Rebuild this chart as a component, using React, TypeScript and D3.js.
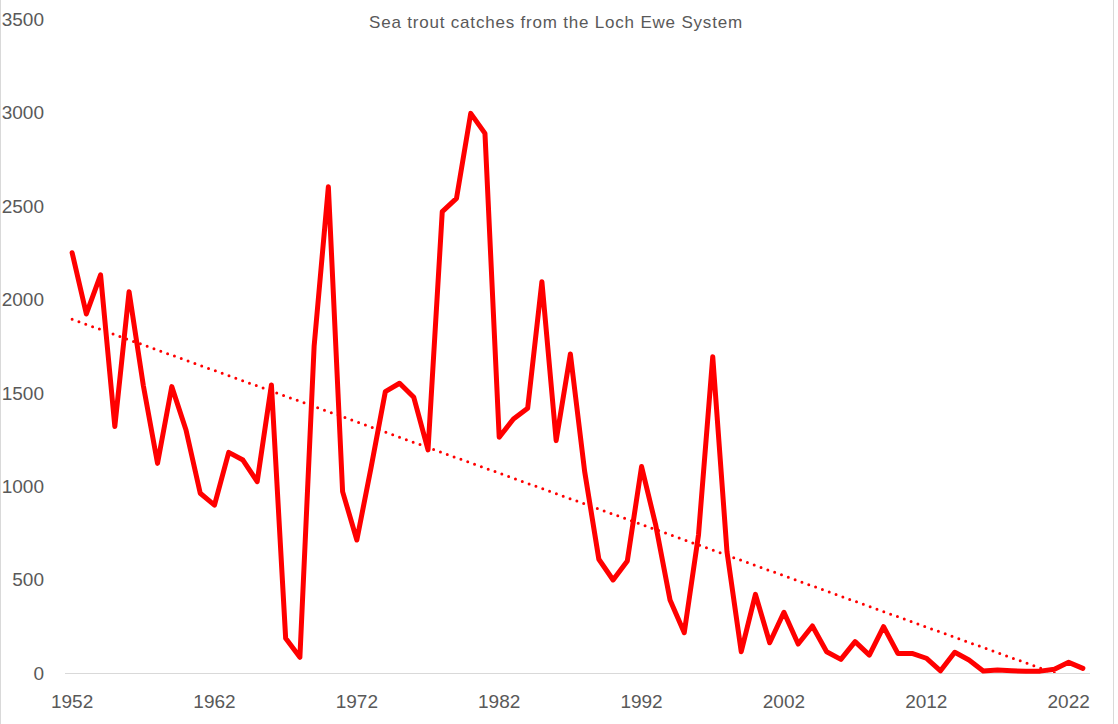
import React from "react";
import * as d3 from "d3";

const years: number[] = d3.range(1952, 2024);
const catches: number[] = [
  2250, 1922, 2131, 1319, 2041, 1540, 1122, 1533, 1301, 962,
  899, 1181, 1140, 1024, 1542, 186, 84, 1750, 2603, 971,
  712, 1100, 1506, 1551, 1476, 1194, 2470, 2541, 2996, 2889,
  1262, 1360, 1417, 2095, 1244, 1708, 1080, 609, 498, 600,
  1105, 790, 391, 216, 740, 1693, 650, 114, 421, 162,
  325, 155, 252, 114, 73, 168, 96, 248, 105, 105,
  79, 12, 111, 70, 11, 16, 12, 9, 10, 20,
  57, 25,
];
const yTicks: number[] = [0, 500, 1000, 1500, 2000, 2500, 3000, 3500];
const xTickYears: number[] = [1952, 1962, 1972, 1982, 1992, 2002, 2012, 2022];
const title = "Sea trout catches from the Loch Ewe System";

const W = 1118;
const H = 724;
const left = 65;
const right = 1090;
const top = 19.2;
const bottom = 673;

export default function App() {
  const x = d3.scalePoint<number>().domain(years).range([left, right]).padding(0.5);
  const y = d3.scaleLinear().domain([0, 3500]).range([bottom, top]);

  const pts = years.map((yr, i) => ({ yr, i, v: catches[i] }));
  const line = d3
    .line<{ yr: number; v: number }>()
    .x((d) => x(d.yr) as number)
    .y((d) => y(d.v));

  // linear trendline (least squares on index)
  const n = pts.length;
  const mx = d3.mean(pts, (d) => d.i) as number;
  const my = d3.mean(pts, (d) => d.v) as number;
  const sxy = d3.sum(pts, (d) => (d.i - mx) * (d.v - my));
  const sxx = d3.sum(pts, (d) => (d.i - mx) * (d.i - mx));
  const slope = sxy / sxx;
  const intercept = my - slope * mx;
  const trend = [
    { yr: years[0], v: intercept },
    { yr: years[n - 1], v: intercept + slope * (n - 1) },
  ];

  const font = "'Liberation Sans', Arial, sans-serif";
  const grey = "#595959";

  return (
    <svg
      width={W}
      height={H}
      style={{ position: "absolute", left: 0, top: 0, background: "#fff" }}
    >
      <defs>
        <clipPath id="plot">
          <rect x={left} y={top} width={right - left} height={bottom - top} />
        </clipPath>
      </defs>
      <rect x={0} y={0} width={W} height={H} fill="#fff" />
      <line x1={0.5} x2={0.5} y1={0} y2={H} stroke="#d9d9d9" strokeWidth={1} />
      <line x1={1113.5} x2={1113.5} y1={0} y2={H} stroke="#d9d9d9" strokeWidth={1} />

      <text
        x={556}
        y={28}
        textAnchor="middle"
        fontFamily={font}
        fontSize={17}
        letterSpacing={0.8}
        fill={grey}
      >
        {title}
      </text>

      <line x1={left} x2={right} y1={bottom + 0.5} y2={bottom + 0.5} stroke="#d9d9d9" strokeWidth={1} />

      {yTicks.map((t) => (
        <text
          key={t}
          x={44}
          y={y(t)}
          dy="0.36em"
          textAnchor="end"
          fontFamily={font}
          fontSize={19}
          fill={grey}
        >
          {t}
        </text>
      ))}

      {xTickYears.map((t) => (
        <text
          key={t}
          x={x(t) as number}
          y={708}
          textAnchor="middle"
          fontFamily={font}
          fontSize={19}
          fill={grey}
        >
          {t}
        </text>
      ))}

      <g clipPath="url(#plot)">
        <path
          d={line(trend) as string}
          fill="none"
          stroke="#ff0000"
          strokeWidth={3}
          strokeLinecap="round"
          strokeDasharray="0 7.25"
        />
      </g>

      <path
        d={line(pts) as string}
        fill="none"
        stroke="#ff0000"
        strokeWidth={5}
        strokeLinejoin="round"
        strokeLinecap="round"
      />
    </svg>
  );
}
